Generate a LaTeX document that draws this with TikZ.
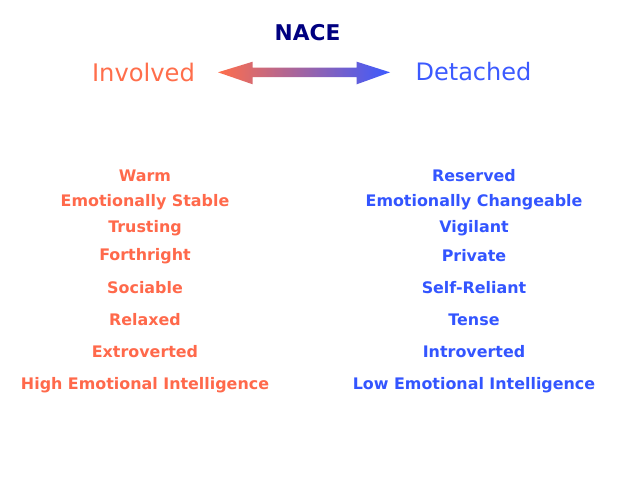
\documentclass[tikz,border=0pt]{standalone}
\usepackage{fontspec}
\setmainfont{DejaVu Sans}
\definecolor{invc}{RGB}{255,110,75}
\definecolor{detc}{RGB}{60,90,255}
\definecolor{navyc}{RGB}{0,0,128}
\definecolor{leftc}{RGB}{255,105,75}
\definecolor{rightc}{RGB}{51,85,255}
\begin{document}
\begin{tikzpicture}[x=1pt,y=-1pt,
  lefttxt/.style={text=leftc,font=\bfseries\fontsize{15.9}{19}\selectfont,inner sep=0pt,anchor=center},
  righttxt/.style={text=rightc,font=\bfseries\fontsize{15.9}{19}\selectfont,inner sep=0pt,anchor=center}]
\useasboundingbox[fill=white] (0,0) rectangle (640,480);
\node[text=navyc,font=\bfseries\fontsize{21.7}{25}\selectfont,inner sep=0pt] (nace) at (307.5,33) {NACE};
\node[text=invc,font=\fontsize{24.2}{28}\selectfont,inner sep=0pt] (inv) at (143.5,72) {Involved};
\node[text=detc,font=\fontsize{24}{28}\selectfont,inner sep=0pt] (det) at (473.5,72) {Detached};
\shade[left color=invc,right color=detc]
  (218,72.3) -- (252.7,61.7) -- (252.7,67.7) -- (356.7,67.7) -- (356.7,61.7) -- (390,72.3)
  -- (356.7,84.3) -- (356.7,77) -- (252.7,77) -- (252.7,84.3) -- cycle;
\node[lefttxt] (l1) at (145,176) {Warm};
\node[lefttxt] (l2) at (145,202) {Emotionally Stable};
\node[lefttxt] (l3) at (145,228) {Trusting};
\node[lefttxt] (l4) at (145,256) {Forthright};
\node[lefttxt] (l5) at (145,288) {Sociable};
\node[lefttxt] (l6) at (145,320) {Relaxed};
\node[lefttxt] (l7) at (145,352) {Extroverted};
\node[lefttxt] (l8) at (145,385) {High Emotional Intelligence};
\node[righttxt] (r1) at (474,176) {Reserved};
\node[righttxt] (r2) at (474,202) {Emotionally Changeable};
\node[righttxt] (r3) at (474,228) {Vigilant};
\node[righttxt] (r4) at (474,256) {Private};
\node[righttxt] (r5) at (474,288) {Self-Reliant};
\node[righttxt] (r6) at (474,320) {Tense};
\node[righttxt] (r7) at (474,352) {Introverted};
\node[righttxt] (r8) at (474,385) {Low Emotional Intelligence};
\end{tikzpicture}
\end{document}
